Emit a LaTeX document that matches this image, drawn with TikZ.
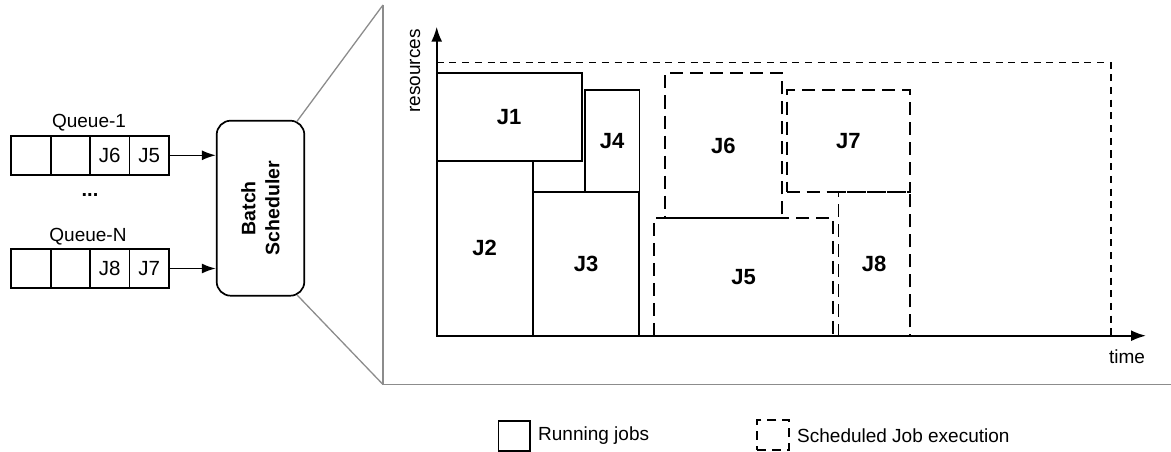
\documentclass[tikz,border=0pt]{standalone}
\usepackage{fontspec}
\setmainfont{Liberation Sans}
\usetikzlibrary{arrows.meta,calc}
\begin{document}
\begin{tikzpicture}[x=1pt,y=-1pt,
  txt/.style={font=\fontsize{19}{20}\selectfont, inner sep=0pt},
  cell/.style={draw, line width=1.7pt, minimum width=39.5pt, minimum height=39.3pt, inner sep=0pt, font=\fontsize{20.5}{21}\selectfont},
  run/.style={draw, line width=1.7pt, inner sep=0pt, font=\bfseries\fontsize{22}{23}\selectfont},
  sched/.style={draw, line width=1.7pt, inner sep=0pt, dash pattern=on 13pt off 7pt, font=\bfseries\fontsize{22}{23}\selectfont},
  zoomline/.style={draw=black!45, line width=1.3pt},
  arr/.style={-{Latex[length=14pt,width=10pt]}, line width=1.6pt},
  axis/.style={-{Latex[length=15pt,width=11pt]}, line width=1.9pt}
]
\useasboundingbox (0,0) rectangle (1171,452);

% queues
\node[txt] (q1lab) at (89,123) {Queue-1};
\node[cell] (q1a) at (30.8,155.3) {};
\node[cell] (q1b) at (70.4,155.3) {};
\node[cell] (q1c) at (109.7,155.3) {J6};
\node[cell] (q1d) at (149.2,155.3) {J5};
\node[txt, font=\bfseries\fontsize{20}{20}\selectfont] (dots) at (90,195) {...};
\node[txt] (qnlab) at (88,237) {Queue-N};
\node[cell] (qna) at (30.8,268.5) {};
\node[cell] (qnb) at (70.4,268.5) {};
\node[cell] (qnc) at (109.7,268.5) {J8};
\node[cell] (qnd) at (149.2,268.5) {J7};

% scheduler
\node[draw, line width=1.7pt, rounded corners=14pt, minimum width=87.6pt, minimum height=175pt, inner sep=0pt] (sch) at (260.5,208.2) {};
\node[rotate=90, align=center, font=\bfseries\fontsize{19.5}{24}\selectfont, inner sep=0pt] (schlab) at (260.5,208.2) {Batch\\Scheduler};

\draw[arr] (q1d.east) -- (q1d.east -| sch.west);
\draw[arr] (qnd.east) -- (qnd.east -| sch.west);

% zoom frame
\coordinate (s1) at (296.7,121.7);
\coordinate (s2) at (297.3,295.2);
\coordinate (ft) at (383,5);
\coordinate (fb) at (383,384.5);
\coordinate (fr) at (1171,384.5);
\draw[zoomline] (s1) -- (ft);
\draw[zoomline] (s2) -- (fb);
\draw[zoomline] (ft) -- (fb) -- (fr);

% chart
\coordinate (o) at (436.7,335.7);
\coordinate (ytip) at (436.7,26.7);
\coordinate (xtip) at (1146,335.7);
\node[txt, rotate=90] (res) at (415,71) {resources};
\node[txt] (time) at (1127,357) {time};

% outer scheduled envelope
\coordinate (e1) at (436.7,62.5);
\coordinate (e2) at (1110.7,62.5);
\coordinate (e3) at (1110.7,335.7);
\draw[line width=1.6pt, dash pattern=on 7pt off 5.7pt] (e1) -- (e2) -- (e3);

% running jobs
\node[run, minimum width=145pt, minimum height=88pt] (j1) at (509.2,116.7) {J1};
\node[run, minimum width=96pt, minimum height=175pt] (j2) at (484.7,248.2) {J2};
\node[run, minimum width=106.6pt, minimum height=143.7pt] (j3) at (586,263.9) {J3};
\node[run, minimum width=54.3pt, minimum height=102pt] (j4) at (612.2,141) {J4};

% scheduled jobs
\node[sched, minimum width=116.7pt, minimum height=144.4pt] (j6) at (723.3,145.5) {J6};
\node[sched, minimum width=178.4pt, minimum height=118pt] (j5) at (743.5,276.7) {J5};
\node[sched, minimum width=123.3pt, minimum height=101.7pt] (j7) at (848.3,140.8) {J7};
\node[sched, minimum width=71.7pt, minimum height=144pt] (j8) at (874.2,263.7) {J8};

% axes
\draw[axis] (o) -- (ytip);
\draw[axis] (o) -- (xtip);

% legend
\node[draw, line width=1.7pt, minimum width=31.7pt, minimum height=29.7pt, inner sep=0pt] (lrun) at (514.2,436) {};
\node[txt, anchor=west] (lrunt) at (538,436) {Running jobs};
\node[draw, line width=1.7pt, dash pattern=on 9pt off 6pt, minimum width=32pt, minimum height=30pt, inner sep=0pt] (lsch) at (773.3,435) {};
\node[txt, anchor=west] (lscht) at (797,436) {Scheduled Job execution};
\end{tikzpicture}
\end{document}
